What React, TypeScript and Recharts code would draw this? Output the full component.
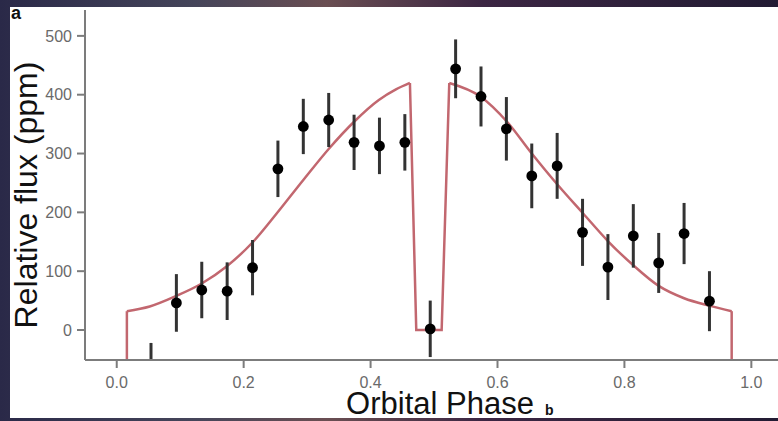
import React from 'react';
import { ComposedChart, Line, Scatter, ErrorBar, XAxis, YAxis } from 'recharts';

// Binned eclipse observations (phase, flux in ppm, 1-sigma error)
const obsPhase = [0.054, 0.094, 0.134, 0.174, 0.214, 0.254, 0.294, 0.334, 0.374, 0.414, 0.454, 0.494, 0.534, 0.574, 0.614, 0.654, 0.694, 0.734, 0.774, 0.814, 0.854, 0.894, 0.934];
const obsFlux = [-70, 46, 68, 66, 106, 274, 346, 357, 319, 313, 319, 2, 444, 397, 342, 262, 279, 166, 107, 160, 114, 164, 49];
const obsErr = [48, 49, 48, 49, 47, 48, 47, 46, 47, 48, 48, 48, 50, 51, 54, 55, 56, 57, 56, 54, 51, 52, 51];

// Phase-curve model, split where it jumps (transit edges and the eclipse)
const riseBranch = {
  phase: [0.016, 0.052, 0.094, 0.134, 0.173, 0.215, 0.252, 0.294, 0.335, 0.374, 0.413, 0.44, 0.462],
  flux: [32, 40, 58, 79, 108, 150, 198, 255, 309, 354, 391, 409, 420],
};
const fallBranch = {
  phase: [0.524, 0.573, 0.615, 0.654, 0.693, 0.735, 0.775, 0.814, 0.854, 0.894, 0.935, 0.969],
  flux: [420, 397, 354, 300, 249, 198, 150, 110, 75, 54, 41, 32],
};
const eclipse = {
  phase: [0.462, 0.472, 0.512, 0.524],
  flux: [420, 0, 0, 420],
};
const leftEdge = { phase: [0.016, 0.016], flux: [-60, 32] };
const rightEdge = { phase: [0.969, 0.969], flux: [32, -60] };

const xTicks = [0, 0.2, 0.4, 0.6, 0.8, 1.0];
const yTicks = [0, 100, 200, 300, 400, 500];
const yDomain = [-51, 544];

const toRows = (s: { phase: number[]; flux: number[] }) =>
  s.phase.map((p, i) => ({ phase: p, flux: s.flux[i] }));

const obsRows = obsPhase.map((p, i) => ({ phase: p, flux: obsFlux[i], err: obsErr[i] }));
const inRange = obsRows.filter((r) => r.flux >= yDomain[0]);
// bins whose centre falls below the axis: only the top of their error bar shows
const offScale = obsRows.filter((r) => r.flux < yDomain[0]);

const FONT = '"Liberation Sans", Arial, Helvetica, sans-serif';
const AXIS = '#7c7c7c';
const MODEL = '#c2676f';
const BAR = '#333';

const Dot = (props: any) => <circle cx={props.cx} cy={props.cy} r={5.4} fill="#000" />;

export default function App() {
  return (
    <div
      style={{
        position: 'absolute',
        left: 0,
        top: 0,
        width: 778,
        height: 421,
        overflow: 'hidden',
        background: 'linear-gradient(90deg, #2a2948 0%, #45455a 25%, #6a4e52 42%, #3c2643 62%, #221b33 100%)',
        fontFamily: FONT,
      }}
    >
      <div style={{ position: 'absolute', left: 10, top: 7, width: 768, height: 411, background: '#fff' }}>
        <ComposedChart width={768} height={411} margin={{ top: 3, right: 0, left: 0, bottom: 0 }}>
          <XAxis
            type="number"
            dataKey="phase"
            domain={[-0.05, 1.042]}
            ticks={xTicks}
            allowDataOverflow
            tickFormatter={(v) => v.toFixed(1)}
            axisLine={{ stroke: AXIS, strokeWidth: 2 }}
            tickLine={{ stroke: AXIS, strokeWidth: 2 }}
            tickSize={8}
            tickMargin={9}
            height={58}
            tick={{ fill: '#6a6a6a', fontSize: 16, fontFamily: FONT }}
          />
          <YAxis
            type="number"
            dataKey="flux"
            domain={yDomain}
            ticks={yTicks}
            allowDataOverflow
            axisLine={{ stroke: AXIS, strokeWidth: 2 }}
            tickLine={{ stroke: AXIS, strokeWidth: 2 }}
            tickSize={8}
            tickMargin={5}
            width={75}
            tick={{ fill: '#6a6a6a', fontSize: 16, fontFamily: FONT }}
          />
          <Line data={toRows(leftEdge)} dataKey="flux" type="linear" stroke={MODEL} strokeWidth={2.5} dot={false} isAnimationActive={false} />
          <Line data={toRows(riseBranch)} dataKey="flux" type="monotone" stroke={MODEL} strokeWidth={2.5} dot={false} isAnimationActive={false} />
          <Line data={toRows(eclipse)} dataKey="flux" type="linear" stroke={MODEL} strokeWidth={2.5} dot={false} isAnimationActive={false} />
          <Line data={toRows(fallBranch)} dataKey="flux" type="monotone" stroke={MODEL} strokeWidth={2.5} dot={false} isAnimationActive={false} />
          <Line data={toRows(rightEdge)} dataKey="flux" type="linear" stroke={MODEL} strokeWidth={2.5} dot={false} isAnimationActive={false} />
          {offScale.map((r) => (
            <Line
              key={r.phase}
              data={[
                { phase: r.phase, flux: r.flux - r.err },
                { phase: r.phase, flux: r.flux + r.err },
              ]}
              dataKey="flux"
              type="linear"
              stroke={BAR}
              strokeWidth={3}
              dot={false}
              isAnimationActive={false}
            />
          ))}
          <Scatter data={inRange} dataKey="flux" shape={Dot} isAnimationActive={false}>
            <ErrorBar dataKey="err" direction="y" width={0} stroke={BAR} strokeWidth={3} isAnimationActive={false} />
          </Scatter>
        </ComposedChart>
      </div>

      {/* panel letters and axis titles */}
      <div style={{ position: 'absolute', left: 11, top: 4, fontSize: 18, fontWeight: 700, color: '#111', lineHeight: 1 }}>a</div>
      <div
        style={{
          position: 'absolute',
          left: 26,
          top: 195,
          transform: 'translate(-50%, -50%) rotate(-90deg)',
          whiteSpace: 'nowrap',
          fontSize: 32,
          lineHeight: 1,
          color: '#111',
        }}
      >
        Relative flux (ppm)
      </div>
      <div
        style={{
          position: 'absolute',
          left: 440,
          top: 392,
          transform: 'translateX(-50%)',
          whiteSpace: 'nowrap',
          fontSize: 31,
          lineHeight: 0.75,
          color: '#111',
        }}
      >
        Orbital Phase
      </div>
      <div style={{ position: 'absolute', left: 545, top: 403, fontSize: 14, fontWeight: 700, color: '#111', lineHeight: 1 }}>b</div>
    </div>
  );
}
